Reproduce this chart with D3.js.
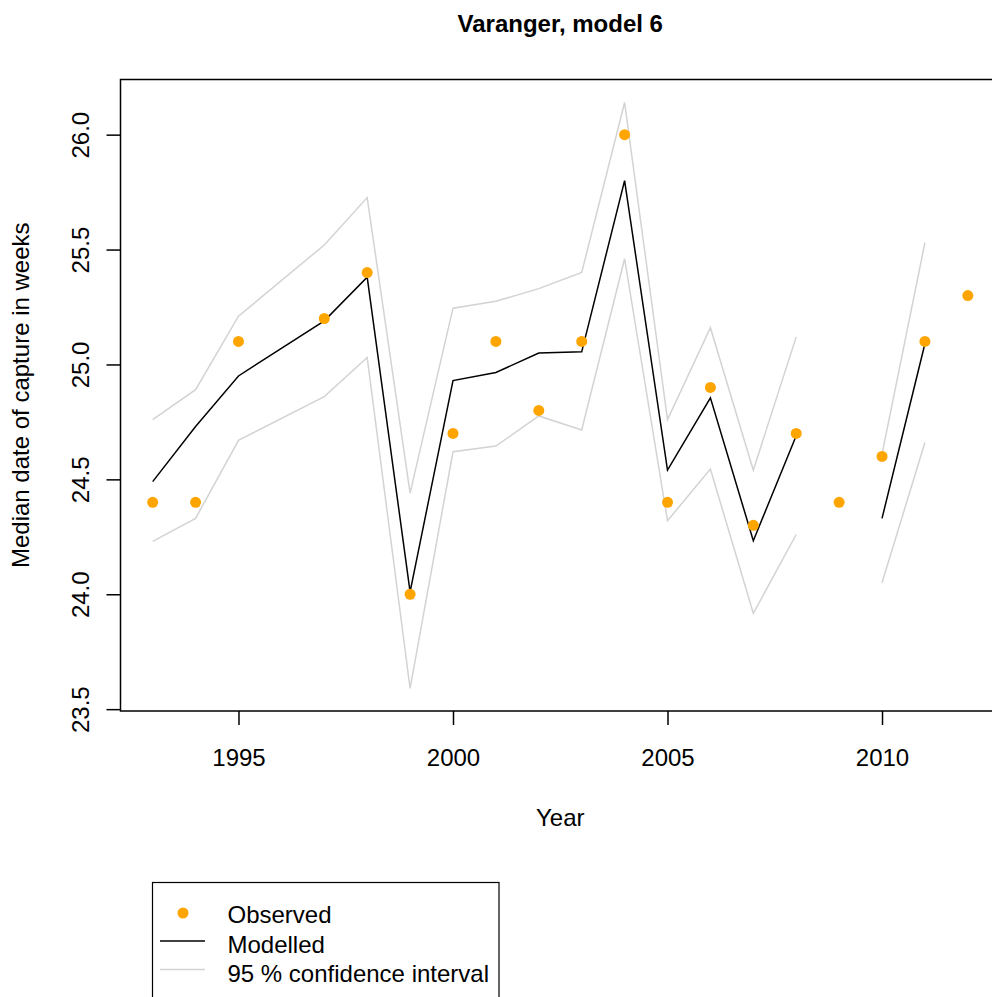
<!DOCTYPE html>
<html lang="en">
<head>
    <meta charset="UTF-8">
    <title>Varanger, model 6</title>
    <style type="text/css">
        body { margin: 0; background: #fff; overflow: hidden; }
        svg { display: block; overflow: hidden; }
        text { font-family: "Liberation Sans", Arial, sans-serif; fill: #000; }
    </style>
</head>
<body>
<div id="chart"></div>

<script src="https://cdnjs.cloudflare.com/ajax/libs/d3/7.8.5/d3.min.js" type="text/javascript"></script>
<script type="text/javascript">

    // values (null = no value that year)
    const years    = [1993, 1994, 1995, 1997, 1998, 1999, 2000, 2001, 2002, 2003, 2004, 2005, 2006, 2007, 2008, 2009, 2010, 2011, 2012];
    const observed = [24.4, 24.4, 25.1, 25.2, 25.4, 24.0, 24.7, 25.1, 24.8, 25.1, 26.0, 24.4, 24.9, 24.3, 24.7, 24.4, 24.6, 25.1, 25.3];
    const modelled = [24.49, 24.73, 24.95, 25.19, 25.38, 24.01, 24.93, 24.965, 25.05, 25.055, 25.80, 24.54, 24.855, 24.233, 24.69, null, 24.33, 25.09, null];
    const ciUpper  = [24.76, 24.89, 25.21, 25.52, 25.726, 24.44, 25.245, 25.275, 25.33, 25.40, 26.14, 24.76, 25.16, 24.54, 25.12, null, 24.61, 25.53, null];
    const ciLower  = [24.23, 24.33, 24.67, 24.86, 25.03, 23.59, 24.62, 24.645, 24.776, 24.715, 25.46, 24.32, 24.545, 23.917, 24.26, null, 24.05, 24.66, null];

    const xTicks = [1995, 2000, 2005, 2010];
    const yTicks = [23.5, 24.0, 24.5, 25.0, 25.5, 26.0];

    const legendLabels = ["Observed", "Modelled", "95 % confidence interval"];

    const width = 992, height = 997;
    const box = {left: 120.5, right: 1000, top: 79.5, bottom: 711};

    const x = d3.scaleLinear().domain([1992.25, 2012.75]).range([box.left, box.right]);
    const y = d3.scaleLinear().domain([23.492, 26.24]).range([box.bottom, box.top]);

    const svg = d3.select("#chart")
        .append("svg")
            .attr("width", width)
            .attr("height", height);

    // confidence interval + modelled lines
    function series(vals) {
        return years.map((yr, i) => ({year: yr, v: vals[i]}));
    }
    const line = d3.line()
        .defined(d => d.v !== null)
        .x(d => x(d.year))
        .y(d => y(d.v));

    [ciUpper, ciLower].forEach(function (vals) {
        svg.append("path")
            .attr("d", line(series(vals)))
            .attr("fill", "none")
            .attr("stroke", "#d3d3d3")
            .attr("stroke-width", 1.5);
    });

    svg.append("path")
        .attr("d", line(series(modelled)))
        .attr("fill", "none")
        .attr("stroke", "#000")
        .attr("stroke-width", 1.5);

    svg.selectAll(".obs")
        .data(series(observed))
        .enter()
        .append("circle")
        .attr("class", "obs")
        .attr("cx", d => x(d.year))
        .attr("cy", d => y(d.v))
        .attr("r", 5.5)
        .attr("fill", "#ffa500");

    // plot frame (right side falls outside the window, as in the original)
    svg.append("rect")
        .attr("x", box.left)
        .attr("y", box.top)
        .attr("width", box.right + 6 - box.left)
        .attr("height", box.bottom - box.top)
        .attr("fill", "none")
        .attr("stroke", "#000")
        .attr("stroke-width", 1.5);

    // x axis
    const xAxis = svg.append("g")
        .attr("transform", `translate(0,${box.bottom})`)
        .call(d3.axisBottom(x).tickValues(xTicks).tickFormat(d3.format("d")).tickSize(14).tickPadding(24));
    xAxis.select(".domain").remove();
    xAxis.selectAll("line").attr("stroke", "#000").attr("stroke-width", 1.5);
    xAxis.selectAll("text").attr("font-size", 24).attr("font-family", null).attr("fill", "#000");

    // y axis, labels turned like R's default
    const yAxis = svg.append("g")
        .attr("transform", `translate(${box.left},0)`)
        .call(d3.axisLeft(y).tickValues(yTicks).tickFormat(d3.format(".1f")).tickSize(14));
    yAxis.select(".domain").remove();
    yAxis.selectAll("line").attr("stroke", "#000").attr("stroke-width", 1.5);
    yAxis.selectAll("text")
        .attr("font-size", 24)
        .attr("font-family", null)
        .attr("fill", "#000")
        .attr("x", null).attr("dy", null)
        .attr("text-anchor", "middle")
        .attr("transform", "translate(-32,0) rotate(-90)");

    // titles
    svg.append("text")
        .attr("x", (box.left + box.right) / 2)
        .attr("y", 32)
        .attr("text-anchor", "middle")
        .attr("font-size", 24)
        .attr("font-weight", "bold")
        .text("Varanger, model 6");

    svg.append("text")
        .attr("x", (box.left + box.right) / 2)
        .attr("y", 826)
        .attr("text-anchor", "middle")
        .attr("font-size", 24)
        .text("Year");

    svg.append("text")
        .attr("transform", `translate(29,${(box.top + box.bottom) / 2}) rotate(-90)`)
        .attr("text-anchor", "middle")
        .attr("font-size", 24)
        .text("Median date of capture in weeks");

    // legend
    const legend = svg.append("g").attr("transform", "translate(152.5,882.5)");
    legend.append("rect")
        .attr("width", 346.5)
        .attr("height", 140)
        .attr("fill", "none")
        .attr("stroke", "#000")
        .attr("stroke-width", 1.2);

    legend.append("circle")
        .attr("cx", 30.5).attr("cy", 30.5).attr("r", 5.5)
        .attr("fill", "#ffa500");
    legend.append("line")
        .attr("x1", 7.5).attr("x2", 52.5).attr("y1", 58.5).attr("y2", 58.5)
        .attr("stroke", "#000").attr("stroke-width", 1.5);
    legend.append("line")
        .attr("x1", 7.5).attr("x2", 52.5).attr("y1", 87).attr("y2", 87)
        .attr("stroke", "#d3d3d3").attr("stroke-width", 1.5);

    legend.selectAll(".lab")
        .data(legendLabels)
        .enter()
        .append("text")
        .attr("class", "lab")
        .attr("x", 75)
        .attr("y", (d, i) => 40.5 + i * 29.5)
        .attr("font-size", 24)
        .text(d => d);

</script>
</body>
</html>
